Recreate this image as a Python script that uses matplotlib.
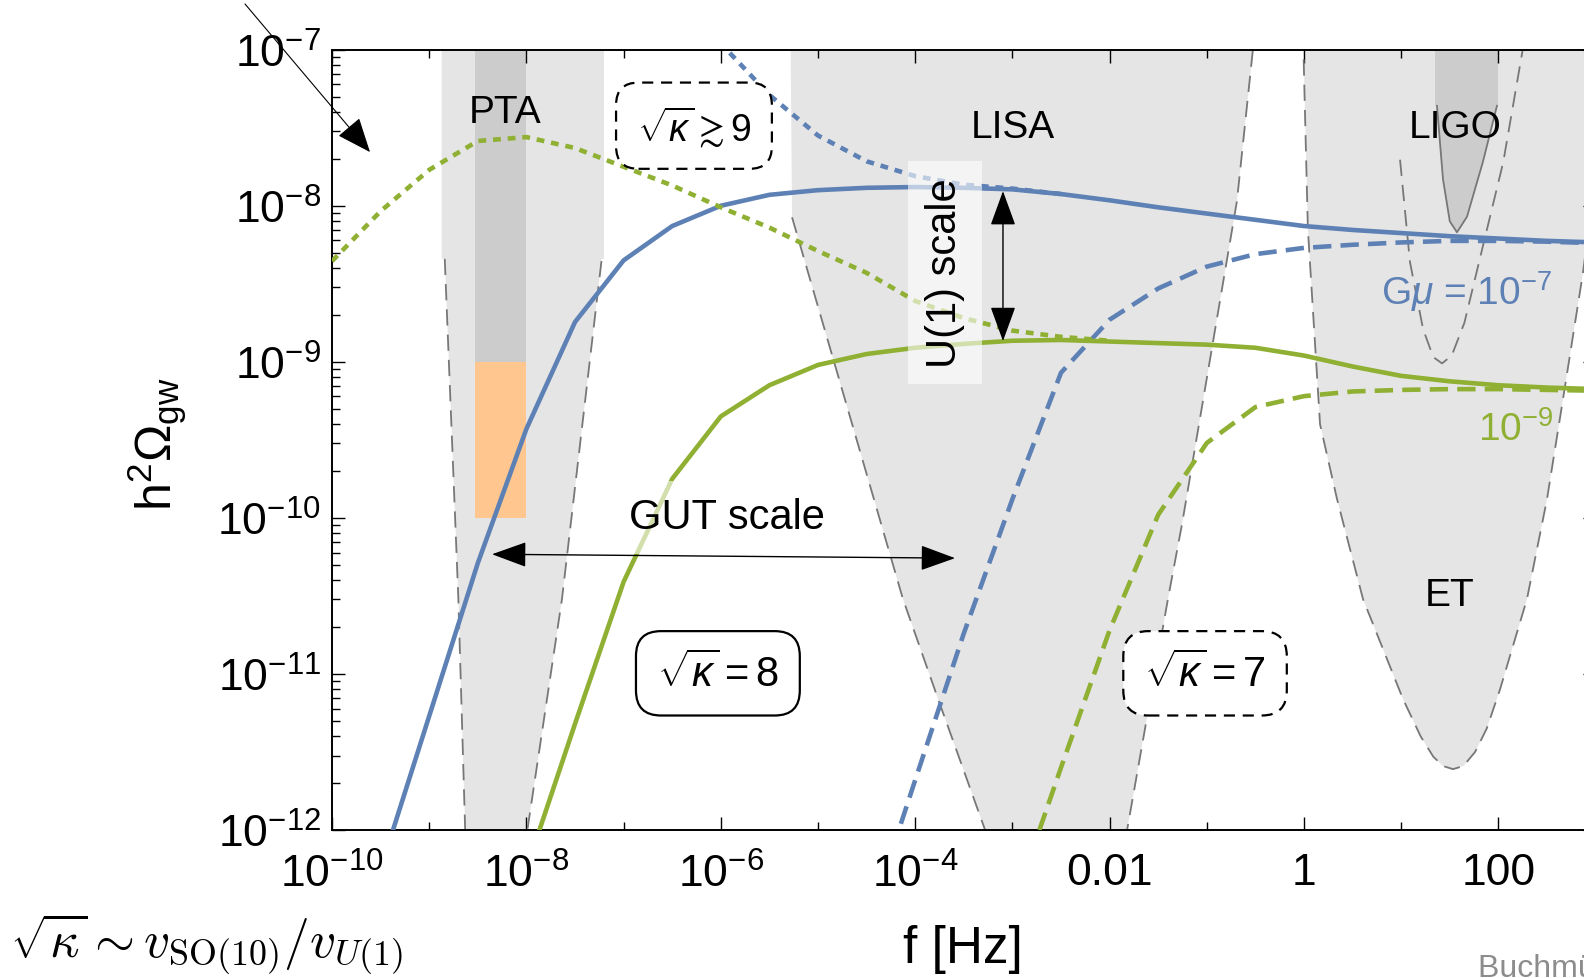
import numpy as np
import matplotlib
matplotlib.use("Agg")
import matplotlib.pyplot as plt
from matplotlib.ticker import FixedLocator, FixedFormatter, LogLocator, NullFormatter

plt.rcParams['font.family'] = ['Liberation Sans', 'DejaVu Sans']
plt.rcParams['mathtext.fontset'] = 'custom'
plt.rcParams['mathtext.rm'] = 'Liberation Sans'
plt.rcParams['mathtext.it'] = 'Liberation Sans:italic'
plt.rcParams['mathtext.bf'] = 'Liberation Sans:bold'

BLUE = "#5e81b5"
GREEN = "#8fb032"
LIGHT = "#e5e5e5"
DARK = "#cccccc"
ORANGE = "#ffc78f"
EDGE = "#777777"

# ── GW spectra, log10 f [Hz] vs log10 h^2 Omega_gw ──
blue_solid_logf = np.arange(-9.5, 3.01, 0.5)
blue_solid = [-12.25, -11.27, -10.29, -9.43, -8.745, -8.35, -8.13, -8.00, -7.93,
              -7.90, -7.885, -7.88, -7.885, -7.895, -7.925, -7.965, -8.01, -8.05,
              -8.09, -8.13, -8.155, -8.175, -8.195, -8.21, -8.225, -8.235]

blue_dashed_logf = np.arange(-4.5, 3.01, 0.5)
blue_dashed = [-12.63, -11.68, -10.74, -9.88, -9.07, -8.73, -8.53, -8.39, -8.31,
               -8.27, -8.25, -8.235, -8.225, -8.225, -8.23, -8.24]

blue_dotted_logf = np.arange(-6.5, -2.49, 0.5)
blue_dotted = [-6.62, -6.96, -7.29, -7.55, -7.715, -7.81, -7.865, -7.89, -7.925]

green_solid_logf = np.arange(-8.0, 3.01, 0.5)
green_solid = [-12.25, -11.32, -10.41, -9.75, -9.35, -9.15, -9.02, -8.95, -8.91,
               -8.885, -8.865, -8.86, -8.87, -8.88, -8.89, -8.91, -8.96, -9.03,
               -9.09, -9.125, -9.15, -9.165, -9.175]

green_dashed_logf = np.arange(-3.0, 3.01, 0.5)
green_dashed = [-12.5, -11.6, -10.72, -9.98, -9.52, -9.29, -9.22, -9.19, -9.18,
                -9.175, -9.175, -9.18, -9.185]

green_dotted_logf = np.arange(-10.0, -1.99, 0.5)
green_dotted = [-8.355, -8.035, -7.77, -7.585, -7.56, -7.63, -7.75, -7.87, -8.01,
                -8.14, -8.29, -8.43, -8.61, -8.72, -8.80, -8.84, -8.865]

# ── detector sensitivities (log10 f, log10 h^2 Omega) ──
pta_band = (-8.872, -7.202)
pta_dark_band = (-8.53, -8.0)
pta_orange = (-10.0, -9.0)
pta_logf = [-8.84, -8.70, -8.63, -8.30, -7.99, -7.634, -7.274, -7.225]
pta_curve = [-8.34, -10.52, -12.0, -13.5, -12.0, -10.52, -8.60, -8.34]

lisa_edge = -5.288
lisa_logf = [-5.267, -4.126, -3.765, -3.282, -2.5, -1.82, -1.40, -1.255, -0.69, -0.525, -0.50]
lisa_curve = [-8.074, -10.52, -11.16, -11.998, -13.0, -12.0, -10.52, -10.04, -7.97, -6.995, -6.8]

et_logf = [-0.01, 0.04, 0.165, 0.34, 0.607, 1.018, 1.20, 1.33, 1.43, 1.533, 1.64,
           1.76, 1.88, 2.016, 2.294, 2.50, 2.654, 2.87, 3.1]
et_curve = [-6.9, -8.15, -9.4, -9.88, -10.52, -11.16, -11.40, -11.53, -11.59, -11.61,
            -11.59, -11.50, -11.35, -11.10, -10.52, -9.88, -9.28, -8.43, -7.3]

ligo_design_logf = [0.988, 1.09, 1.225, 1.33, 1.42, 1.52, 1.65, 1.84, 2.05, 2.25, 2.28]
ligo_design = [-7.705, -8.36, -8.79, -8.97, -9.01, -8.96, -8.75, -8.26, -7.72, -7.0, -6.9]

ligo_band = (1.348, 1.996)
ligo_logf = [1.368, 1.43, 1.50, 1.574, 1.677, 1.84, 1.985]
ligo_curve = [-7.36, -7.83, -8.10, -8.17, -8.07, -7.72, -7.36]

TOP = -6.5

def P(a):
    return 10.0 ** np.asarray(a, dtype=float)

fig = plt.figure(figsize=(15.84, 9.79), dpi=100)
ax = fig.add_axes([332 / 1584, 148 / 979, 1263.6 / 1584, 780.3 / 979])
ax.set_xscale('log')
ax.set_yscale('log')

SENS = dict(color=EDGE, lw=1.3, ls=(0, (9, 5)), zorder=2)

# PTA
ax.fill(P([pta_band[0]] + pta_logf + [pta_band[1], pta_band[1], pta_band[0]]),
        P([pta_curve[0]] + pta_curve + [pta_curve[-1], TOP, TOP]),
        color=LIGHT, lw=0, zorder=1)
ax.fill_between(P(pta_dark_band), P(pta_orange[1]), P(TOP), color=DARK, lw=0, zorder=1.2)
ax.fill_between(P(pta_dark_band), P(pta_orange[0]), P(pta_orange[1]), color=ORANGE, lw=0, zorder=1.3)
ax.plot(P(pta_logf), P(pta_curve), **SENS)

# LISA
ax.fill(P([lisa_edge] + lisa_logf + [lisa_edge]),
        P([TOP] + lisa_curve + [TOP]), color=LIGHT, lw=0, zorder=1)
ax.plot(P(lisa_logf), P(lisa_curve), **SENS)

# ET
ax.fill(P(et_logf + [et_logf[-1] + 1, et_logf[-1] + 1]),
        P(et_curve + [et_curve[-1], TOP]), color=LIGHT, lw=0, zorder=1)
ax.plot(P(et_logf), P(et_curve), **SENS)

# LIGO
ax.fill(P([ligo_band[0]] + ligo_logf + [ligo_band[1], ligo_band[1], ligo_band[0]]),
        P([ligo_curve[0]] + ligo_curve + [ligo_curve[-1], TOP, TOP]),
        color=DARK, lw=0, zorder=1.2)
ax.plot(P(ligo_logf), P(ligo_curve), color=EDGE, lw=1.3, zorder=2)
ax.plot(P(ligo_design_logf), P(ligo_design), **SENS)

# GW spectra
LW = 3.3
DASH = (0, (4.0, 2.0))
DOT = (0, (1.7, 1.5))
ax.plot(P(blue_solid_logf), P(blue_solid), color=BLUE, lw=LW, zorder=3)
ax.plot(P(blue_dashed_logf), P(blue_dashed), color=BLUE, lw=LW, ls=DASH, zorder=3)
ax.plot(P(blue_dotted_logf), P(blue_dotted), color=BLUE, lw=LW, ls=DOT, zorder=3)
ax.plot(P(green_solid_logf), P(green_solid), color=GREEN, lw=LW, zorder=3)
ax.plot(P(green_dashed_logf), P(green_dashed), color=GREEN, lw=LW, ls=DASH, zorder=3)
ax.plot(P(green_dotted_logf), P(green_dotted), color=GREEN, lw=LW, ls=DOT, zorder=3)

ax.set_xlim(1e-10, 1e3)
ax.set_ylim(1e-12, 1e-7)

# ticks
xmaj = [1e-10, 1e-8, 1e-6, 1e-4, 1e-2, 1e0, 1e2]
xlab = [r'$10^{-10}$', r'$10^{-8}$', r'$10^{-6}$', r'$10^{-4}$', '0.01', '1', '100']
ax.xaxis.set_major_locator(FixedLocator(xmaj))
ax.xaxis.set_major_formatter(FixedFormatter(xlab))
ax.xaxis.set_minor_locator(FixedLocator([1e-9, 1e-7, 1e-5, 1e-3, 1e-1, 1e1]))
ax.xaxis.set_minor_formatter(NullFormatter())
ymaj = [1e-12, 1e-11, 1e-10, 1e-9, 1e-8, 1e-7]
ax.yaxis.set_major_locator(FixedLocator(ymaj))
ax.yaxis.set_major_formatter(FixedFormatter([r'$10^{-12}$', r'$10^{-11}$', r'$10^{-10}$',
                                             r'$10^{-9}$', r'$10^{-8}$', r'$10^{-7}$']))
ax.yaxis.set_minor_locator(LogLocator(base=10, subs=np.arange(2, 10), numticks=20))
ax.yaxis.set_minor_formatter(NullFormatter())
ax.tick_params(which='both', direction='in', top=True, right=True, width=1.0,
               labelsize=32, colors='black')
ax.tick_params(which='major', length=9.5)
ax.tick_params(which='minor', length=5.5)
ax.tick_params(axis='x', pad=16)
ax.tick_params(axis='y', pad=8)
for s in ax.spines.values():
    s.set_linewidth(1.4)

# labels
fig.text(157 / 1584, 1 - 444 / 979, r'$\mathregular{h^2\Omega_{gw}}$', rotation=90,
         ha='center', va='center', fontsize=36)
fig.text(963 / 1584, 1 - 950 / 979, 'f [Hz]', ha='center', va='center', fontsize=37)
fig.text(10 / 1584, 1 - 944 / 979, r'$\sqrt{\kappa} \sim v_{\mathrm{SO}(10)}/v_{U(1)}$',
         ha='left', va='center', fontsize=37, math_fontfamily='cm')
fig.text(1478 / 1584, 1 - 977 / 979, 'Buchmüller et al.', ha='left', va='baseline',
         fontsize=23, color='#8c8c8c')

# region names
ax.text(P(-8.22), P(-7.40), 'PTA', ha='center', va='center', fontsize=28, zorder=5)
ax.text(P(-2.994), P(-7.496), 'LISA', ha='center', va='center', fontsize=28, zorder=5)
ax.text(P(1.553), P(-7.496), 'LIGO', ha='center', va='center', fontsize=28, zorder=5)
ax.text(P(1.502), P(-10.495), 'ET', ha='center', va='center', fontsize=28, zorder=5)
ax.text(P(1.677), P(-8.541), r'G$\mu$ = 10$^{-7}$', ha='center', va='center',
        fontsize=28, color=BLUE, zorder=5)
ax.text(P(2.181), P(-9.43), r'10$^{-9}$', ha='center', va='center',
        fontsize=28, color=GREEN, zorder=5)

# kappa boxes
ax.text(P(-6.276), P(-7.487), r'$\sqrt{\kappa}\gtrsim 9$', ha='center', va='center',
        fontsize=27, zorder=6,
        bbox=dict(boxstyle='round,pad=0.55,rounding_size=0.6', fc='white', ec='black',
                  lw=1.6, ls=(0, (5, 3.5))))
ax.text(P(-6.03), P(-10.996), r'$\sqrt{\kappa} = 8$', ha='center', va='center',
        fontsize=30, zorder=6,
        bbox=dict(boxstyle='round,pad=0.5,rounding_size=0.6', fc='white', ec='black', lw=1.6))
ax.text(P(-1.018), P(-10.996), r'$\sqrt{\kappa} = 7$', ha='center', va='center',
        fontsize=30, zorder=6,
        bbox=dict(boxstyle='round,pad=0.5,rounding_size=0.6', fc='white', ec='black',
                  lw=1.6, ls=(0, (5, 3.5))))

# scale annotations
ax.text(P(-5.936), P(-9.996), 'GUT scale', ha='center', va='center', fontsize=30, zorder=5,
        bbox=dict(boxstyle='square,pad=0.4', fc='white', ec='none', alpha=0.6))
ax.text(P(-3.693), P(-8.425), 'U(1) scale', rotation=90, ha='center', va='center',
        fontsize=30, zorder=5,
        bbox=dict(boxstyle='square,pad=0.4', fc='white', ec='none', alpha=0.6))

head = '<|-|>,head_length=1.1,head_width=0.4'
ax.annotate('', xy=(P(-8.354), P(-10.233)), xytext=(P(-3.59), P(-10.258)),
            arrowprops=dict(arrowstyle=head, mutation_scale=20, color='black', lw=1.0,
                            shrinkA=0, shrinkB=0), zorder=6)
ax.annotate('', xy=(P(-3.097), P(-7.906)), xytext=(P(-3.097), P(-8.867)),
            arrowprops=dict(arrowstyle=head, mutation_scale=20, color='black', lw=1.0,
                            shrinkA=0, shrinkB=0), zorder=6)
ax.annotate('', xy=(P(-9.609), P(-7.656)), xytext=(P(-10.895), P(-6.707)),
            arrowprops=dict(arrowstyle='-|>,head_length=1.1,head_width=0.45', mutation_scale=20,
                            color='black', lw=0.8, shrinkA=0, shrinkB=0),
            annotation_clip=False, zorder=6)

fig.savefig("out.png", dpi=100)
